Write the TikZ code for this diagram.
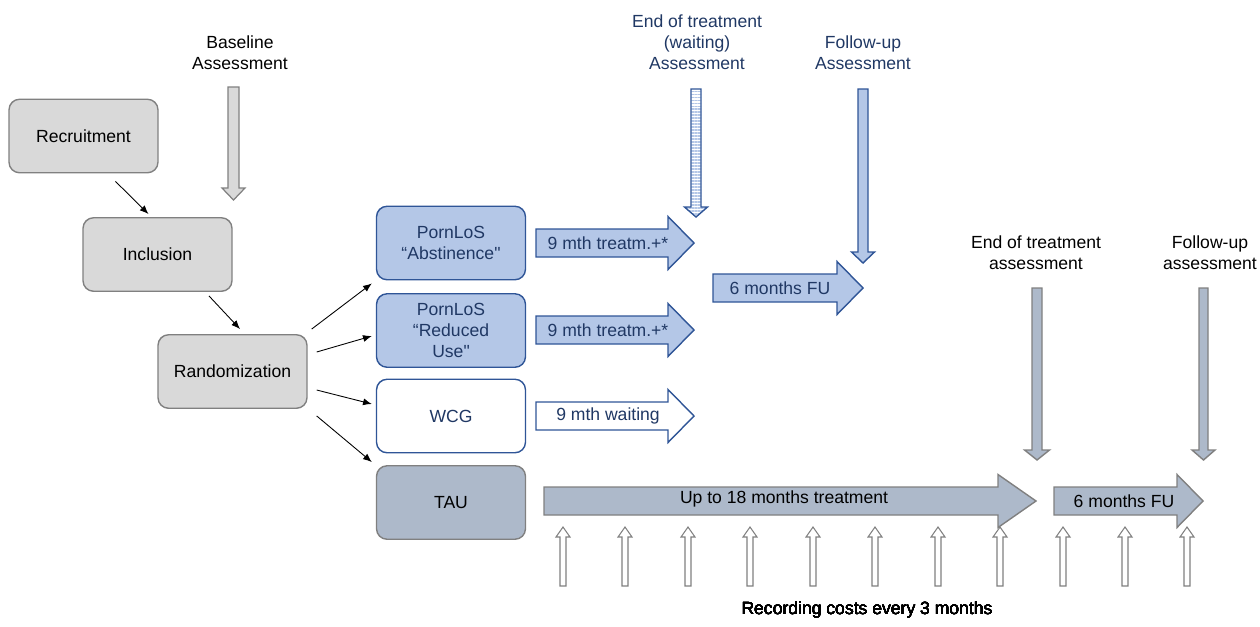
\documentclass[tikz,border=0pt]{standalone}
\usepackage{fontspec}
\setmainfont{Liberation Sans}[Ligatures=TeXOff]
\usepackage{tikz}
\usetikzlibrary{arrows.meta, positioning, calc, patterns.meta}

\definecolor{boxgray}{HTML}{D9D9D9}
\definecolor{linegray}{HTML}{808080}
\definecolor{boxblue}{HTML}{B4C7E7}
\definecolor{lineblue}{HTML}{2F5597}
\definecolor{textnavy}{HTML}{203864}
\definecolor{boxtau}{HTML}{ADB9CA}

% block arrows: style, x tail, y centre, x tip, x head base
\newcommand{\harrow}[5]{\draw[#1] (#2,#3-14) -- (#5,#3-14) -- (#5,#3-26.5) -- (#4,#3) -- (#5,#3+26.5) -- (#5,#3+14) -- (#2,#3+14) -- cycle;}
% style, x centre, y tail, y head base, y tip, shaft half, head half
\newcommand{\varrow}[7]{\draw[#1] (#2-#6,#3) -- (#2-#6,#4) -- (#2-#7,#4) -- (#2,#5) -- (#2+#7,#4) -- (#2+#6,#4) -- (#2+#6,#3) -- cycle;}

\begin{document}
\begin{tikzpicture}[x=0.02cm, y=-0.02cm, font=\fontsize{10}{12}\selectfont,
    graybox/.style={shape=rectangle, rounded corners=6pt, draw=linegray, fill=boxgray, line width=0.8pt, minimum width=2.98cm, minimum height=1.47cm, align=center},
    bluebox/.style={graybox, draw=lineblue, fill=boxblue, text=textnavy},
    whitebox/.style={bluebox, fill=white},
    taubox/.style={graybox, fill=boxtau},
    conn/.style={-{Latex[length=5pt,width=4pt]}, line width=0.5pt},
    grayarr/.style={draw=linegray, fill=boxgray, line width=0.7pt},
    bluearr/.style={draw=lineblue, fill=boxblue, line width=0.8pt},
    whitearr/.style={draw=lineblue, fill=white, line width=0.8pt},
    stripearr/.style={draw=lineblue, line width=0.8pt, preaction={fill=white}, pattern={Lines[angle=0, distance=1.7pt, line width=0.9pt]}, pattern color=boxblue},
    tauarr/.style={draw=linegray, fill=boxtau, line width=0.8pt},
    costarr/.style={draw=linegray, fill=white, line width=0.6pt},
    heading/.style={align=center, inner sep=0pt}]
  \useasboundingbox (0,0) rectangle (1260,626);
  % Study boxes:
  \node[graybox] (rec) at (83.5,136) {Recruitment};
  \node[graybox] (inc) at (157.5,254.5) {Inclusion};
  \node[graybox] (rand) at (232.5,371.5) {Randomization};
  \node[bluebox] (abst) at (451,243) {PornLoS\\“Abstinence"};
  \node[bluebox] (red) at (451,330.5) {PornLoS\\“Reduced\\Use"};
  \node[whitebox] (wcg) at (451,416) {WCG};
  \node[taubox] (tau) at (451,502.5) {TAU};
  % Connectors:
  \draw[conn] ($(rec.south)+(32,8)$) -- ($(inc.north)+(-9,-3)$);
  \draw[conn] ($(inc.south)+(51.5,4)$) -- ($(rand.north)+(7.5,-5)$);
  \draw[conn] ($(rand.north east)+(4,-5)$) -- ($(abst.south west)+(-4,3)$);
  \draw[conn] ($(rand.east)+(9,-19.5)$) -- ($(red.west)+(-4,5.5)$);
  \draw[conn] ($(rand.east)+(9,18.5)$) -- ($(wcg.west)+(-4,-12)$);
  \draw[conn] ($(rand.south east)+(9,7)$) -- ($(tau.north west)+(-4,-3)$);
  % Assessment arrows and labels:
  \node[heading] (base) at (240,52.5) {Baseline\\Assessment};
  \varrow{grayarr}{233.5}{87}{188}{200}{5.5}{11.5}
  \node[heading, text=textnavy] (eotw) at (697,42) {End of treatment\\(waiting)\\Assessment};
  \varrow{stripearr}{696}{89}{207}{217}{5}{11.5}
  \node[heading, text=textnavy] (fuw) at (863,52.5) {Follow-up\\Assessment};
  \varrow{bluearr}{863}{89}{252}{263}{5}{11.5}
  \node[heading] (eot) at (1036,253) {End of treatment\\assessment};
  \varrow{tauarr}{1037}{288}{450}{460}{5}{12.5}
  \node[heading] (fu) at (1210,253) {Follow-up\\assessment};
  \varrow{tauarr}{1203.5}{288}{450}{460}{4.5}{11.5}
  % Time line arrows:
  \harrow{bluearr}{536}{243}{694}{668}
  \node[text=textnavy] (tr1) at (608,243) {9 mth treatm.+*};
  \harrow{bluearr}{536}{330}{694}{668}
  \node[text=textnavy] (tr2) at (608,330) {9 mth treatm.+*};
  \harrow{whitearr}{536}{416}{694}{668}
  \node[text=textnavy] (wait) at (608,416) {9 mth waiting};
  \harrow{bluearr}{713}{288}{863}{837}
  \node[text=textnavy] (fu6) at (780,288) {6 months FU};
  \harrow{tauarr}{544}{501}{1036}{998}
  \node (tau18) at (784,499) {Up to 18 months treatment};
  \harrow{tauarr}{1054}{501}{1203}{1177}
  \node (taufu) at (1124,501) {6 months FU};
  % Cost recording:
  \foreach \x in {563,625,688,750,813,875,938,1000,1063,1125,1187}
    \varrow{costarr}{\x}{586}{537}{527}{3}{7}
  \node (cost) at (867,610) {Recording costs every 3 months};
\end{tikzpicture}
\end{document}
